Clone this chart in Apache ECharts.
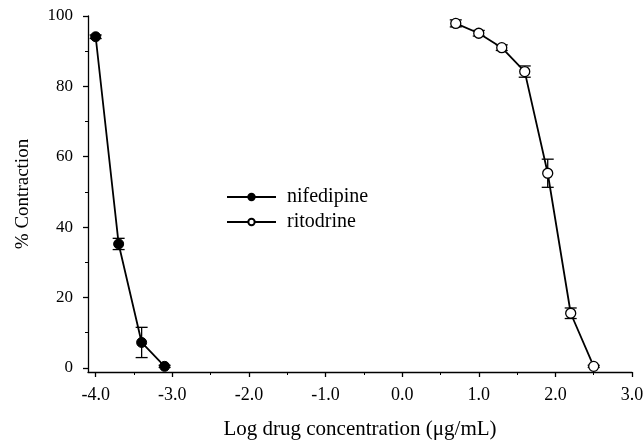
<!DOCTYPE html>
<html>
<head>
<meta charset="utf-8">
<script src="https://cdn.jsdelivr.net/npm/echarts@6/dist/echarts.min.js"></script>
<style>
  html, body { margin: 0; padding: 0; background: #fff; }
  #main { width: 644px; height: 441px; }
</style>
</head>
<body>
<div id="main"></div>
<script>
// nifedipine: log conc, % contraction, error (+/-)
var nifeX = [-4.0, -3.7, -3.4, -3.1];
var nifeY = [94.1, 35.2, 7.2, 0.4];
var nifeErr = [0.5, 1.6, 4.3, 0.3];

// ritodrine
var ritoX = [0.7, 1.0, 1.3, 1.6, 1.9, 2.2, 2.5];
var ritoY = [97.9, 95.1, 91.0, 84.2, 55.3, 15.5, 0.4];
var ritoErr = [1.0, 0.8, 0.8, 1.6, 4.0, 1.5, 0.3];

var xTicks = [-4, -3, -2, -1, 0, 1, 2, 3];
var xMinorTicks = [-3.5, -2.5, -1.5, -0.5, 0.5, 1.5, 2.5];
var yTicks = [0, 20, 40, 60, 80, 100];
var yMinorTicks = [10, 30, 50, 70, 90];

var font = 'Liberation Serif';

function pairs(xs, ys) {
  return xs.map(function (x, i) { return [x, ys[i]]; });
}
function errData(xs, ys, es) {
  return xs.map(function (x, i) { return [x, ys[i] - es[i], ys[i] + es[i]]; });
}

function errRender(params, api) {
  var lo = api.coord([api.value(0), api.value(1)]);
  var hi = api.coord([api.value(0), api.value(2)]);
  var w = 6;
  var st = { stroke: '#000', lineWidth: 1.3 };
  return {
    type: 'group',
    children: [
      { type: 'line', shape: { x1: lo[0], y1: lo[1], x2: hi[0], y2: hi[1] }, style: st },
      { type: 'line', shape: { x1: lo[0] - w, y1: lo[1], x2: lo[0] + w, y2: lo[1] }, style: st },
      { type: 'line', shape: { x1: hi[0] - w, y1: hi[1], x2: hi[0] + w, y2: hi[1] }, style: st }
    ]
  };
}

var chart = echarts.init(document.getElementById('main'));
chart.setOption({
  animation: false,
  backgroundColor: '#fff',
  grid: { left: 88, top: 16, right: 12, bottom: 69, containLabel: false, outerBoundsMode: 'none' },
  legend: {
    orient: 'vertical',
    left: 221,
    top: 182,
    itemWidth: 49,
    itemHeight: 8,
    itemGap: 5,
    textStyle: { fontFamily: font, fontSize: 20, color: '#000', padding: [0, 0, 0, 6] },
    data: ['nifedipine', 'ritodrine']
  },
  xAxis: [{
    type: 'value',
    min: -4.1,
    max: 3.0,
    name: 'Log drug concentration (\u03bcg/mL)',
    nameLocation: 'middle',
    nameGap: 47,
    nameTextStyle: { fontFamily: font, fontSize: 21, color: '#000' },
    axisLine: { onZero: false, lineStyle: { color: '#000', width: 1.3 } },
    axisTick: { customValues: xTicks, length: 5, lineStyle: { color: '#000', width: 1.3 } },
    axisLabel: {
      customValues: xTicks,
      margin: 14,
      fontFamily: font, fontSize: 18, color: '#000',
      formatter: function (v) { return v.toFixed(1); }
    },
    splitLine: { show: false }
  }, {
    type: 'value',
    min: -4.1,
    max: 3.0,
    position: 'bottom',
    axisLine: { show: false, onZero: false },
    axisTick: { customValues: xMinorTicks, length: 3, lineStyle: { color: '#000', width: 1 } },
    axisLabel: { show: false },
    splitLine: { show: false }
  }],
  yAxis: [{
    type: 'value',
    min: -1.2,
    max: 100,
    name: '% Contraction',
    nameLocation: 'middle',
    nameGap: 55,
    nameTextStyle: { fontFamily: font, fontSize: 19, color: '#000' },
    axisLine: { show: true, onZero: false, lineStyle: { color: '#000', width: 1.3 } },
    axisTick: { show: true, customValues: yTicks, length: 5, lineStyle: { color: '#000', width: 1.3 } },
    axisLabel: {
      customValues: yTicks,
      margin: 15,
      fontFamily: font, fontSize: 17, color: '#000'
    },
    splitLine: { show: false }
  }, {
    type: 'value',
    min: -1.2,
    max: 100,
    position: 'left',
    axisLine: { show: false, onZero: false },
    axisTick: { show: true, customValues: yMinorTicks, length: 3, lineStyle: { color: '#000', width: 1 } },
    axisLabel: { show: false },
    splitLine: { show: false }
  }],
  series: [
    {
      type: 'custom',
      renderItem: errRender,
      data: errData(nifeX, nifeY, nifeErr),
      encode: { x: 0, y: [1, 2] },
      z: 1
    },
    {
      type: 'custom',
      renderItem: errRender,
      data: errData(ritoX, ritoY, ritoErr),
      encode: { x: 0, y: [1, 2] },
      z: 1
    },
    {
      name: 'nifedipine',
      type: 'line',
      data: pairs(nifeX, nifeY),
      symbol: 'circle',
      symbolSize: 10,
      lineStyle: { color: '#000', width: 1.8 },
      itemStyle: { color: '#000', borderColor: '#000', borderWidth: 1 },
      z: 3
    },
    {
      name: 'ritodrine',
      type: 'line',
      data: pairs(ritoX, ritoY),
      symbol: 'circle',
      symbolSize: 10,
      lineStyle: { color: '#000', width: 1.8 },
      itemStyle: { color: '#fff', borderColor: '#000', borderWidth: 1.3 },
      z: 3
    }
  ]
});
</script>
</body>
</html>
